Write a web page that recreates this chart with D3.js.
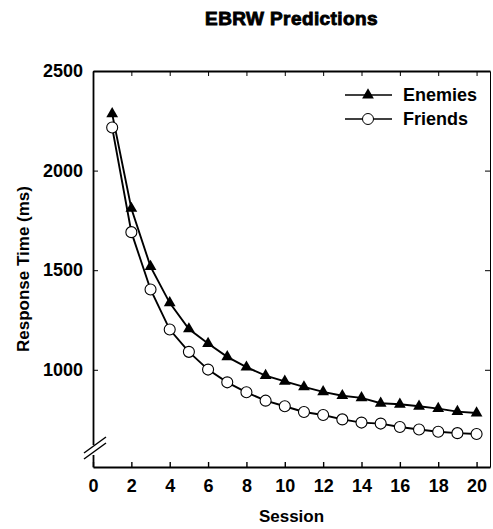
<!DOCTYPE html>
<html>
<head>
<meta charset="utf-8">
<script src="https://cdn.jsdelivr.net/npm/d3@7"></script>
<style>
  body { margin: 0; background: #fff; }
  text { font-family: "Liberation Sans", Arial, sans-serif; fill: #000; }
  .axis .tick text { font-weight: bold; font-size: 18px; font-family: "Liberation Sans", Arial, sans-serif; }
</style>
</head>
<body>
<div id="chart"></div>
<script>
// data
let sessions = d3.range(1, 21);
let enemies = [2285, 1810, 1518, 1336, 1205, 1132, 1065, 1013, 971, 942,
               914, 889, 870, 859, 832, 827, 817, 805, 790, 783];
let friends = [2216, 1691, 1403, 1202, 1090, 1001, 937, 887, 845, 817,
               788, 773, 751, 735, 730, 713, 700, 689, 682, 678];
let xTicks = d3.range(0, 21, 2);
let yTicks = [1000, 1500, 2000, 2500];

/** CONSTANTS */
let width = 493,
  height = 529,
  margin = { top: 71, bottom: 62, left: 93, right: 3 };

/** SCALES */
let xScale = d3.scaleLinear()
  .domain([0, 20.7])
  .range([margin.left, width - margin.right]);

let yScale = d3.scaleLinear()
  .domain([512, 2500])
  .range([height - margin.bottom, margin.top]);

let svg = d3.select("#chart")
  .append("svg")
  .attr("width", width)
  .attr("height", height);

// frame axes, ticks pointing inward
svg.append("g")
  .attr("class", "axis")
  .attr("transform", `translate(0, ${yScale(512)})`)
  .call(d3.axisBottom(xScale).tickValues(xTicks).tickSize(-5).tickPadding(12).tickSizeOuter(0))
  .call(g => g.select(".domain").attr("stroke-width", 2.2))
  .call(g => g.selectAll(".tick line").attr("stroke-width", 1.4));

svg.append("g")
  .attr("transform", `translate(0, ${margin.top})`)
  .call(d3.axisTop(xScale).tickValues(xTicks).tickSize(-5).tickFormat("").tickSizeOuter(0))
  .call(g => g.select(".domain").attr("stroke-width", 1.8));

svg.append("g")
  .attr("class", "axis")
  .attr("transform", `translate(${margin.left}, 0)`)
  .call(d3.axisLeft(yScale).tickValues(yTicks).tickFormat(d3.format("d")).tickSize(-5).tickPadding(10).tickSizeOuter(0))
  .call(g => g.select(".domain").attr("stroke-width", 1.8));

svg.append("g")
  .attr("transform", `translate(${width - margin.right}, 0)`)
  .call(d3.axisRight(yScale).tickValues(yTicks).tickSize(-5).tickFormat("").tickSizeOuter(0))
  .call(g => g.select(".domain").attr("stroke-width", 1));

// axis break mark
let bx = margin.left, by = yScale(512) - 17;
svg.append("rect")
  .attr("x", bx - 2).attr("y", by - 5).attr("width", 4).attr("height", 10)
  .attr("fill", "#fff");
[-3, 3].forEach(o => {
  svg.append("line")
    .attr("x1", bx - 9).attr("y1", by + 6 + o)
    .attr("x2", bx + 13).attr("y2", by - 10 + o)
    .attr("stroke", "#000").attr("stroke-width", 1.4);
});

// lines
let line = d3.line()
  .x((d, i) => xScale(sessions[i]))
  .y(d => yScale(d));

[enemies, friends].forEach(series => {
  svg.append("path")
    .datum(series)
    .attr("d", line)
    .attr("fill", "none")
    .attr("stroke", "#000")
    .attr("stroke-width", 1.9);
});

let tri = d3.symbol().type(d3.symbolTriangle).size(60);

svg.selectAll("path.enemy")
  .data(enemies)
  .join("path")
  .attr("class", "enemy")
  .attr("transform", (d, i) => `translate(${xScale(sessions[i])}, ${yScale(d)})`)
  .attr("d", tri)
  .attr("fill", "#000");

svg.selectAll("circle.friend")
  .data(friends)
  .join("circle")
  .attr("class", "friend")
  .attr("cx", (d, i) => xScale(sessions[i]))
  .attr("cy", d => yScale(d))
  .attr("r", 5.5)
  .attr("fill", "#fff")
  .attr("stroke", "#000")
  .attr("stroke-width", 1.1);

// legend
let legend = svg.append("g").attr("transform", "translate(345, 95)");
legend.append("line").attr("x1", 0).attr("x2", 47).attr("y1", 0).attr("y2", 0)
  .attr("stroke", "#000").attr("stroke-width", 1.6);
legend.append("path").attr("transform", "translate(23, 0)").attr("d", tri).attr("fill", "#000");
legend.append("text").attr("x", 58).attr("y", 6).attr("font-size", 18).attr("font-weight", "bold").text("Enemies");
legend.append("line").attr("x1", 0).attr("x2", 47).attr("y1", 24).attr("y2", 24)
  .attr("stroke", "#000").attr("stroke-width", 1.6);
legend.append("circle").attr("cx", 23).attr("cy", 24).attr("r", 5.5)
  .attr("fill", "#fff").attr("stroke", "#000");
legend.append("text").attr("x", 58).attr("y", 30).attr("font-size", 18).attr("font-weight", "bold").text("Friends");

// titles
svg.append("text")
  .attr("x", (margin.left + width - margin.right) / 2)
  .attr("y", 25)
  .attr("text-anchor", "middle")
  .attr("font-size", 19)
  .attr("font-weight", "bold")
  .attr("letter-spacing", 0.4)
  .attr("stroke", "#000")
  .attr("stroke-width", 0.9)
  .text("EBRW Predictions");

svg.append("text")
  .attr("x", (margin.left + width - margin.right) / 2)
  .attr("y", 522)
  .attr("text-anchor", "middle")
  .attr("font-size", 17)
  .attr("font-weight", "bold")
  .text("Session");

svg.append("text")
  .attr("transform", `translate(29, ${(margin.top + yScale(512)) / 2}) rotate(-90)`)
  .attr("text-anchor", "middle")
  .attr("font-size", 17)
  .attr("font-weight", "bold")
  .text("Response Time (ms)");
</script>
</body>
</html>
